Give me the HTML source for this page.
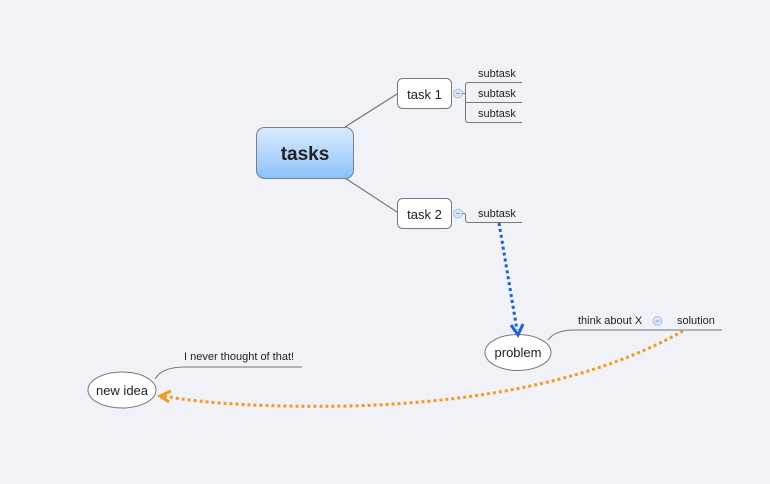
<!DOCTYPE html>
<html><head><style>
html,body{margin:0;padding:0;background:#f1f2f7;}
svg text{font-family:"Liberation Sans",sans-serif;fill:#222;}
</style></head><body>
<svg width="770" height="479" viewBox="0 0 770 479" xmlns="http://www.w3.org/2000/svg">
<defs>
<linearGradient id="g" x1="0" y1="0" x2="0" y2="1">
<stop offset="0" stop-color="#dcebfd"/><stop offset="1" stop-color="#8cc1fa"/>
</linearGradient>
</defs>
<rect width="770" height="479" fill="#f1f2f7"/>
<!-- connectors -->
<line x1="345" y1="127" x2="397" y2="94" stroke="#777" stroke-width="1.2"/>
<line x1="345" y1="178" x2="397" y2="212" stroke="#777" stroke-width="1.2"/>
<!-- central -->
<rect x="256.5" y="127.5" width="97" height="51" rx="8" fill="url(#g)" stroke="#7a7f88"/>
<text x="305" y="160" font-size="19" font-weight="bold" text-anchor="middle" fill="#3a3d44">tasks</text>
<!-- task boxes -->
<rect x="397.5" y="78.5" width="54" height="30" rx="5" fill="#fff" stroke="#777"/>
<text x="424.5" y="99" font-size="13" text-anchor="middle">task 1</text>
<rect x="397.5" y="198.5" width="54" height="30" rx="5" fill="#fff" stroke="#777"/>
<text x="424.5" y="219" font-size="13" text-anchor="middle">task 2</text>
<!-- collapse circles -->
<g fill="#d7e4f8" stroke="#a9c3ea">
<circle cx="458" cy="93.5" r="4.5"/><circle cx="458" cy="213.5" r="4.5"/><circle cx="657.5" cy="321" r="4.5"/>
</g>
<g stroke="#7f9cc8"><line x1="456" y1="93.5" x2="460" y2="93.5"/><line x1="456" y1="213.5" x2="460" y2="213.5"/><line x1="655.5" y1="321" x2="659.5" y2="321"/></g>
<!-- subtasks bracket -->
<g fill="none" stroke="#777" stroke-width="1">
<path d="M462.5 93.5 H465.5"/>
<path d="M522 82.5 H468.5 Q465.5 82.5 465.5 85.5 V119.5 Q465.5 122.5 468.5 122.5 H522"/>
<path d="M465.5 102.5 H522"/>
<path d="M462.5 213.5 H464.5 Q465.5 213.5 465.5 216 V219.5 Q465.5 222.5 468.5 222.5 H522"/>
<path d="M548 340 Q555 330 575 330 H722"/>
<path d="M155 379 Q162 367 185 367 H302"/>
</g>
<g font-size="11">
<text x="478" y="77">subtask</text>
<text x="478" y="97">subtask</text>
<text x="478" y="117">subtask</text>
<text x="478" y="217">subtask</text>
<text x="578" y="324">think about X</text>
<text x="677" y="324">solution</text>
<text x="184" y="360">I never thought of that!</text>
</g>
<!-- ellipses -->
<ellipse cx="518" cy="352.5" rx="33" ry="18" fill="#fff" stroke="#777"/>
<text x="518" y="357" font-size="13" text-anchor="middle">problem</text>
<ellipse cx="122" cy="390" rx="34" ry="18" fill="#fff" stroke="#777"/>
<text x="122" y="395" font-size="13" text-anchor="middle">new idea</text>
<!-- relationships -->
<path d="M499 223 L517 330" stroke="#1e62d0" stroke-width="3" stroke-dasharray="3,3" fill="none"/>
<path d="M511 325 L518 335 L523 324" stroke="#1e62d0" stroke-width="3" fill="none"/>
<path d="M683 331 Q560 400 350 406 Q230 408 163 396" stroke="#f29a22" stroke-width="3" stroke-dasharray="3,3" fill="none"/>
<path d="M171 391 L160 396 L169 402" stroke="#f29a22" stroke-width="3" fill="none"/>
</svg>
</body></html>
